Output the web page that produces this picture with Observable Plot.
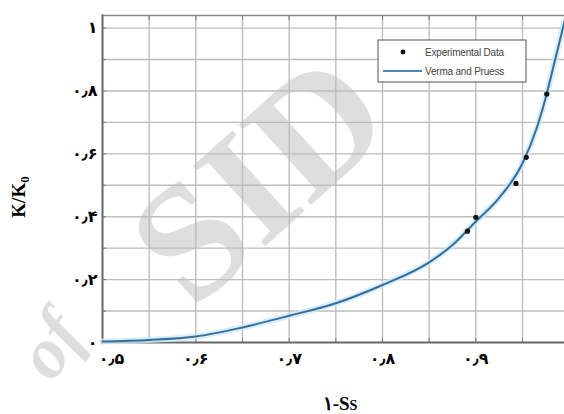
<!DOCTYPE html>
<html>
<head>
<meta charset="utf-8">
<script src="https://cdn.jsdelivr.net/npm/d3@7"></script>
<script src="https://cdn.jsdelivr.net/npm/@observablehq/plot@0.6"></script>
<style>
  html, body { margin: 0; padding: 0; background: #fff; }
  #wrap { position: relative; width: 564px; height: 414px; overflow: hidden; }
  #wrap svg { position: absolute; left: 0; top: 0; }
</style>
</head>
<body>
<div id="wrap"></div>
<script>
// ---- data ----
const curveX = [0.50, 0.55, 0.60, 0.65, 0.70, 0.75, 0.80, 0.85, 0.875, 0.90, 0.925, 0.95, 0.965, 0.975, 0.985, 0.995];
const curveY = [0.003, 0.008, 0.019, 0.048, 0.085, 0.125, 0.183, 0.255, 0.31, 0.385, 0.46, 0.57, 0.68, 0.78, 0.90, 1.02];
const expX = [0.891, 0.900, 0.943, 0.954, 0.976];
const expY = [0.354, 0.398, 0.506, 0.589, 0.790];

const xTicks = [0.5, 0.6, 0.7, 0.8, 0.9];
const xTickLabels = ["۰٫۵", "۰٫۶", "۰٫۷", "۰٫۸", "۰٫۹"];
const yTicks = [0, 0.2, 0.4, 0.6, 0.8, 1];
const yTickLabels = ["۰", "۰٫۲", "۰٫۴", "۰٫۶", "۰٫۸", "۱"];
const xGrid = [0.55, 0.6, 0.65, 0.7, 0.75, 0.8, 0.85, 0.9, 0.95];
const yGrid = [0.1, 0.2, 0.3, 0.4, 0.5, 0.6, 0.7, 0.8, 0.9, 1.0];

const seriesNames = ["Experimental Data", "Verma and Pruess"];
const xTitleMain = "۱-S";
const xTitleSub = "S";
const yTitleMain = "K/K";
const yTitleSub = "0";
const watermarkWords = ["SID", "of"];

const curve = curveX.map((x, i) => ({x, y: curveY[i]}));
const points = expX.map((x, i) => ({x, y: expY[i]}));
const xLab = new Map(xTicks.map((d, i) => [d, xTickLabels[i]]));
const yLab = new Map(yTicks.map((d, i) => [d, yTickLabels[i]]));

const lineColor = "#356d9c";
const tickText = {tickSize: 0, label: null, fontSize: 16, fontWeight: "bold", fontFamily: "DejaVu Sans", fill: "#000"};

// watermark (drawn first, underneath the chart)
const wm = d3.select("#wrap").append("svg").attr("width", 564).attr("height", 414);
wm.append("text").attr("transform", "translate(258,178) rotate(-42)")
  .attr("text-anchor", "middle").attr("dominant-baseline", "central")
  .style("font-family", "'Liberation Serif', serif").style("font-weight", "bold").style("font-size", "165px")
  .attr("fill", "#dedede").text(watermarkWords[0]);
wm.append("text").attr("transform", "translate(50,345) rotate(-55)")
  .attr("text-anchor", "middle").attr("dominant-baseline", "central")
  .style("font-family", "'Liberation Serif', serif").style("font-style", "italic").style("font-weight", "bold")
  .style("font-size", "72px")
  .attr("fill", "#dedede").text(watermarkWords[1]);

const chart = Plot.plot({
  width: 564,
  height: 414,
  marginLeft: 102,
  marginRight: 0,
  marginTop: 15,
  marginBottom: 72,
  x: {domain: [0.5, 0.995]},
  y: {domain: [0, 1.04]},
  style: {background: "transparent", overflow: "visible"},
  marks: [
    Plot.ruleX(xGrid, {stroke: "#bdbdbd", strokeWidth: 1.4}),
    Plot.ruleY(yGrid, {stroke: "#bdbdbd", strokeWidth: 1.4}),
    Plot.frame({anchor: "top", stroke: "#8a8a8a", strokeWidth: 1.5}),
    Plot.frame({anchor: "left", stroke: "#666", strokeWidth: 2}),
    Plot.frame({anchor: "bottom", stroke: "#666", strokeWidth: 2}),
    Plot.axisX(xGrid, {anchor: "top", tickSize: -4, tickFormat: () => "", label: null, stroke: "#777"}),
    Plot.axisX(xGrid, {anchor: "bottom", tickSize: -4, tickFormat: () => "", label: null, stroke: "#777"}),
    Plot.axisY(yGrid, {anchor: "left", tickSize: -4, tickFormat: () => "", label: null, stroke: "#777"}),
    Plot.line(curve, {x: "x", y: "y", stroke: "#cde8f6", strokeWidth: 6, strokeOpacity: 0.8, curve: "monotone-x"}),
    Plot.line(curve, {x: "x", y: "y", stroke: lineColor, strokeWidth: 2, curve: "monotone-x"}),
    Plot.dot(points, {x: "x", y: "y", r: 2.6, fill: "#111", stroke: "none"}),
    Plot.axisX(xTicks.slice(0, 1), {...tickText, anchor: "bottom", tickPadding: 10, dx: 9, tickFormat: d => xLab.get(d)}),
    Plot.axisX(xTicks.slice(1), {...tickText, anchor: "bottom", tickPadding: 10, tickFormat: d => xLab.get(d)}),
    Plot.axisY(yTicks, {...tickText, anchor: "left", tickPadding: 5, tickFormat: d => yLab.get(d)})
  ]
});

document.getElementById("wrap").appendChild(chart);

const svg = d3.select(chart);

// axis titles
const xt = svg.append("text")
  .attr("x", 340).attr("y", 410)
  .attr("text-anchor", "middle")
  .style("font-family", "'Liberation Serif', 'DejaVu Serif', serif")
  .style("font-weight", "bold").style("font-size", "19px").attr("fill", "#000");
xt.append("tspan").text(xTitleMain);
xt.append("tspan").style("font-size", "14px").text(xTitleSub);

const yt = svg.append("text")
  .attr("transform", "translate(25,197) rotate(-90)")
  .attr("text-anchor", "middle")
  .style("font-family", "'Liberation Serif', 'DejaVu Serif', serif")
  .style("font-weight", "bold").style("font-size", "19px").attr("fill", "#000");
yt.append("tspan").text(yTitleMain);
yt.append("tspan").attr("dy", 4).style("font-size", "13px").text(yTitleSub);

// legend
const lg = svg.append("g");
lg.append("rect").attr("x", 378).attr("y", 40).attr("width", 148).attr("height", 42)
  .attr("fill", "#fff").attr("stroke", "#555").attr("stroke-width", 1);
lg.append("circle").attr("cx", 403).attr("cy", 52).attr("r", 2.4).attr("fill", "#111");
lg.append("line").attr("x1", 383).attr("x2", 422).attr("y1", 71).attr("y2", 71)
  .attr("stroke", "#4a88bc").attr("stroke-width", 1.8);
seriesNames.forEach((s, i) => {
  lg.append("text").attr("x", 425).attr("y", i === 0 ? 52 : 71).attr("dy", "0.35em")
    .attr("text-anchor", "start")
    .style("font-family", "'Liberation Sans', Arial, sans-serif").style("font-size", "10px")
    .style("letter-spacing", "-0.2px").attr("fill", "#444").text(s);
});
</script>
</body>
</html>
